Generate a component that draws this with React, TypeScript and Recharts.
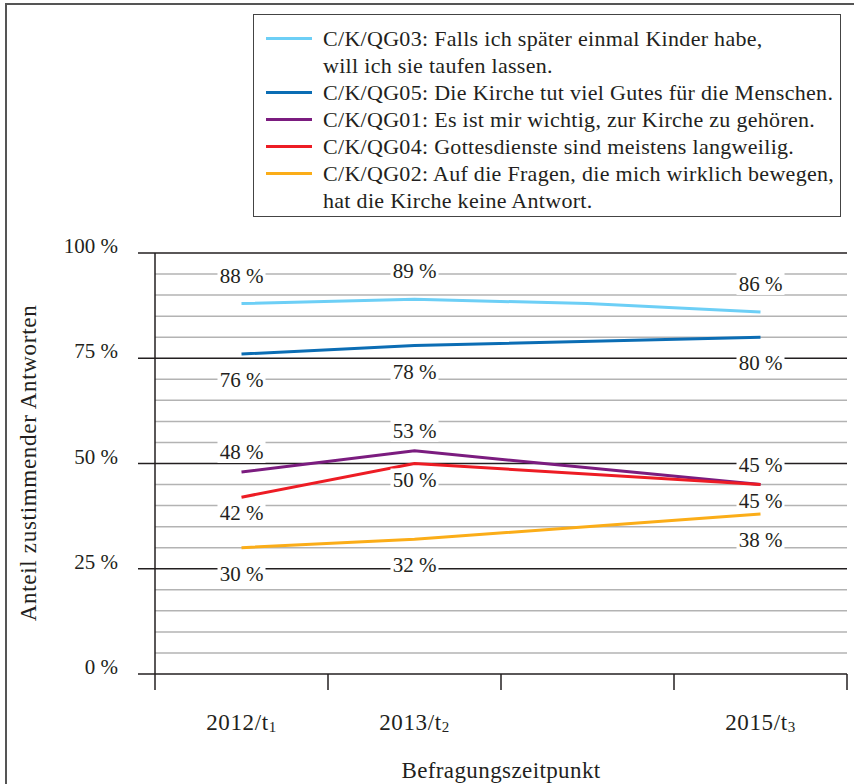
import React from "react";
import { LineChart, Line, XAxis, YAxis, ReferenceLine, LabelList } from "recharts";

const years = [2012, 2013, 2014, 2015];
const tickYears = [2012, 2013, 2015];
const tickWaves = ["1", "2", "3"];
const yTicks = [0, 25, 50, 75, 100];

const qg03 = [88, 89, 88, 86];
const qg05 = [76, 78, null, 80];
const qg01 = [48, 53, null, 45];
const qg04 = [42, 50, null, 45];
const qg02 = [30, 32, null, 38];

const series = [
	{ key: "qg03", values: qg03, color: "#6dcff6", dy: -28, text: ["C/K/QG03: Falls ich später einmal Kinder habe,", "will ich sie taufen lassen."] },
	{ key: "qg05", values: qg05, color: "#0b6db4", dy: 26, text: ["C/K/QG05: Die Kirche tut viel Gutes für die Menschen."] },
	{ key: "qg01", values: qg01, color: "#7b1c7f", dy: -20, text: ["C/K/QG01: Es ist mir wichtig, zur Kirche zu gehören."] },
	{ key: "qg04", values: qg04, color: "#ed1c24", dy: 16, text: ["C/K/QG04: Gottesdienste sind meistens langweilig."] },
	{ key: "qg02", values: qg02, color: "#fbad18", dy: 26, text: ["C/K/QG02: Auf die Fragen, die mich wirklich bewegen,", "hat die Kirche keine Antwort."] },
];

const data = years.map((year, i) => {
	const row: any = { year };
	series.forEach((s) => (row[s.key] = s.values[i]));
	return row;
});

const minorGrid = [5, 10, 15, 20, 30, 35, 40, 45, 55, 60, 65, 70, 80, 85, 90, 95];
const majorGrid = [25, 50, 75, 100];
// category boundaries (tick marks) and category centres (labels)
const xTicks = [2011.5, 2012, 2012.5, 2013, 2013.5, 2014.5, 2015, 2015.5];

const FONT = "'Liberation Serif', 'Times New Roman', serif";
const INK = "#231f20";

const PointLabel = (props: any) => {
	const { x, y, value, index, dy } = props;
	if (value == null || years[index] === 2014) return null;
	const cy = y + dy;
	return (
		<g>
			<rect x={x - 24} y={cy - 11} width={48} height={22} fill="#fff" />
			<text x={x} y={cy} textAnchor="middle" dominantBaseline="central" fontFamily={FONT} fontSize={21} fill={INK}>
				{value} %
			</text>
		</g>
	);
};

const YTick = (props: any) => {
	const { y, payload } = props;
	return (
		<g>
			<line x1={138} x2={155} y1={y} y2={y} stroke={INK} strokeWidth={1.5} />
			<text x={118} y={y - 7} textAnchor="end" dominantBaseline="central" fontFamily={FONT} fontSize={21} fill={INK}>
				{payload.value} %
			</text>
		</g>
	);
};

const XTick = (props: any) => {
	const { x, y, payload } = props;
	const i = tickYears.indexOf(payload.value);
	if (i < 0) {
		return <line x1={x} x2={x} y1={y} y2={y + 16} stroke={INK} strokeWidth={1.5} />;
	}
	return (
		<text x={x} y={y + 48} textAnchor="middle" dominantBaseline="central" fontFamily={FONT} fontSize={23} letterSpacing={0.6} fill={INK}>
			<tspan>{payload.value}/t</tspan>
			<tspan fontSize={15} dy={5}>{tickWaves[i]}</tspan>
		</text>
	);
};

const Legend = () => (
	<div
		style={{
			position: "absolute",
			left: 253,
			top: 14,
			width: 588,
			height: 203,
			border: "1.5px solid #444",
			boxSizing: "border-box",
			padding: "10px 0 0 12px",
			fontFamily: FONT,
			fontSize: 22,
			letterSpacing: 0.3,
			lineHeight: "27px",
			color: INK,
		}}>
		{series.map((s) => (
			<div key={s.key} style={{ display: "flex", alignItems: "flex-start" }}>
				<div style={{ width: 46, height: 3, background: s.color, marginTop: 12, marginRight: 11, flex: "none" }} />
				<div style={{ whiteSpace: "nowrap" }}>
					{s.text.map((t, j) => (
						<div key={j}>{t}</div>
					))}
				</div>
			</div>
		))}
	</div>
);

export default function App() {
	return (
		<div style={{ position: "absolute", left: 0, top: 0, width: 854, height: 784, overflow: "hidden", background: "#fff" }}>
			<div style={{ position: "absolute", left: 5, top: 3, width: 900, height: 900, border: "2px solid #555" }} />
			<Legend />
			<div style={{ position: "absolute", left: 0, top: 0 }}>
				<LineChart width={854} height={784} data={data} margin={{ top: 253, right: 7, bottom: 0, left: 0 }}>
					{minorGrid.map((v) => (
						<ReferenceLine key={"m" + v} y={v} stroke="#b3b3b3" strokeWidth={1.5} />
					))}
					{majorGrid.map((v) => (
						<ReferenceLine key={"M" + v} y={v} stroke={INK} strokeWidth={1.5} />
					))}
					<YAxis
						type="number"
						domain={[0, 100]}
						ticks={yTicks}
						width={155}
						tickLine={false}
						tick={<YTick />}
						axisLine={{ stroke: INK, strokeWidth: 1.5 }}
						label={{
							content: () => (
								<text x={28} y={463} transform="rotate(-90, 28, 463)" textAnchor="middle" dominantBaseline="central" fontFamily={FONT} fontSize={23} letterSpacing={0.7} fill={INK}>
									Anteil zustimmender Antworten
								</text>
							),
						}}
					/>
					<XAxis
						dataKey="year"
						type="number"
						domain={[2011.5, 2015.5]}
						ticks={xTicks}
						height={110}
						tickSize={0}
						tickMargin={0}
						interval={0}
						tickLine={false}
						axisLine={{ stroke: INK, strokeWidth: 1.5 }}
						tick={<XTick />}
						label={{
							content: () => (
								<text x={501} y={770} textAnchor="middle" dominantBaseline="central" fontFamily={FONT} fontSize={23} letterSpacing={0.4} fill={INK}>
									Befragungszeitpunkt
								</text>
							),
						}}
					/>
					{series.map((s) => (
						<Line
							key={s.key}
							dataKey={s.key}
							type="linear"
							stroke={s.color}
							strokeWidth={3}
							dot={false}
							activeDot={false}
							connectNulls
							isAnimationActive={false}>
							<LabelList dataKey={s.key} content={(p: any) => <PointLabel {...p} dy={s.dy} />} />
						</Line>
					))}
				</LineChart>
			</div>
		</div>
	);
}
